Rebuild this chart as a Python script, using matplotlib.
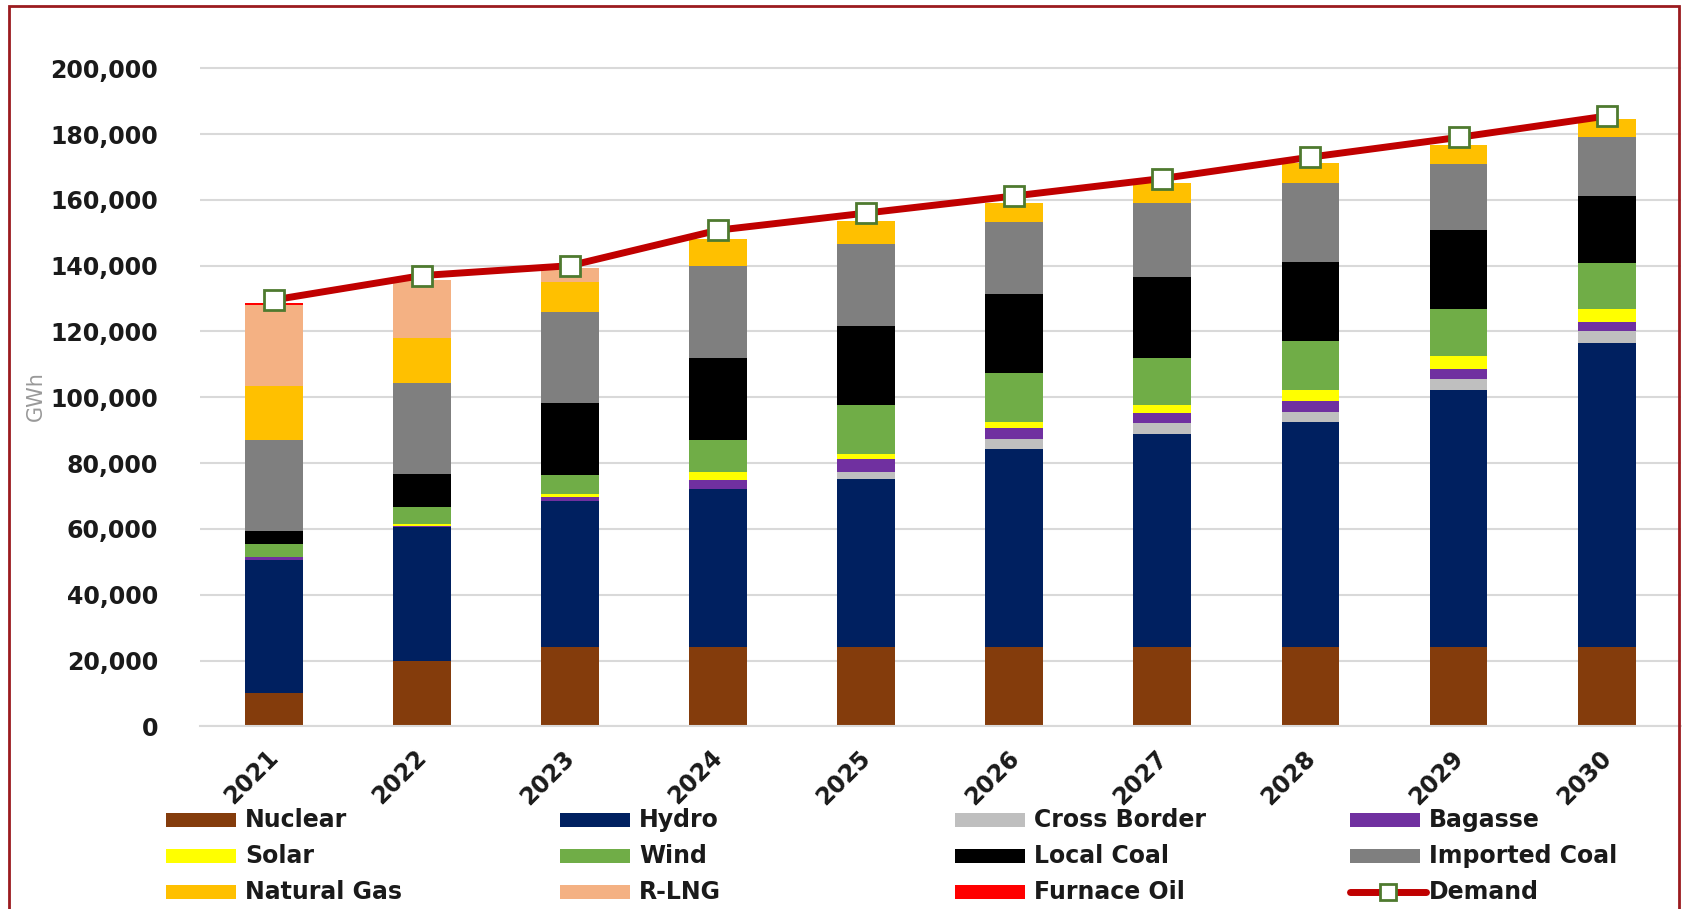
import matplotlib
matplotlib.use("Agg")
import matplotlib.pyplot as plt
import numpy as np
from matplotlib.patches import Rectangle
from matplotlib.lines import Line2D
from matplotlib.transforms import ScaledTranslation

# generation mix by source, GWh
years = ['2021', '2022', '2023', '2024', '2025', '2026', '2027', '2028', '2029', '2030']
nuclear = [10000, 19800, 24200, 24200, 24200, 24200, 24200, 24200, 24200, 24200]
hydro = [40400, 40700, 44200, 48000, 51100, 60000, 64600, 68300, 77900, 92200]
cross_border = [0, 0, 0, 0, 2000, 3100, 3500, 3100, 3600, 3700]
bagasse = [1200, 300, 1400, 2800, 3800, 3500, 3000, 3400, 2900, 2900]
solar = [0, 700, 800, 2300, 1600, 1800, 2400, 3300, 4000, 3800]
wind = [3800, 5300, 5800, 9800, 14900, 14800, 14200, 14700, 14200, 14100]
local_coal = [4100, 9900, 21900, 24900, 24200, 24100, 24700, 24100, 23900, 20400]
imported_coal = [27500, 27600, 27500, 27900, 24800, 21800, 22600, 24100, 20100, 17700]
natural_gas = [16500, 13600, 9200, 8100, 6900, 5900, 6000, 5900, 5900, 5500]
rlng = [24700, 17800, 4300, 0, 0, 0, 0, 0, 0, 0]
furnace_oil = [400, 0, 0, 0, 0, 0, 0, 0, 0, 0]
demand = [129600, 137000, 140000, 150800, 156000, 161200, 166500, 173000, 179000, 185500]

series = [
    ("Nuclear", nuclear, "#843C0C"),
    ("Hydro", hydro, "#002060"),
    ("Cross Border", cross_border, "#BFBFBF"),
    ("Bagasse", bagasse, "#7030A0"),
    ("Solar", solar, "#FFFF00"),
    ("Wind", wind, "#70AD47"),
    ("Local Coal", local_coal, "#000000"),
    ("Imported Coal", imported_coal, "#7F7F7F"),
    ("Natural Gas", natural_gas, "#FFC000"),
    ("R-LNG", rlng, "#F4B183"),
    ("Furnace Oil", furnace_oil, "#FF0000"),
]

W, H = 1683, 909
fig = plt.figure(figsize=(W / 100, H / 100), dpi=100)
plt.rcParams['font.family'] = ['DejaVu Sans']
txt = '#1a1a1a'
fs = 17

# outer border
fig.patches.append(Rectangle((9 / W, -0.02), (1679 - 9) / W, 1.02 - 6.5 / H,
                             transform=fig.transFigure, fill=False,
                             edgecolor='#9B1B1F', linewidth=2, zorder=0))

ax_left, ax_right = 199.7, 1680.7
y0, px_per_k = 726.3, 3.29
ymax = 201000
ax_top = y0 - px_per_k * ymax / 1000
ax = fig.add_axes([ax_left / W, 1 - y0 / H, (ax_right - ax_left) / W, (y0 - ax_top) / H])

x = np.arange(len(years))
bottom = np.zeros(len(years))
for name, vals, col in series:
    vals = np.array(vals, dtype=float)
    ax.bar(x, vals, width=0.39, bottom=bottom, color=col, zorder=2, linewidth=0)
    bottom += vals

ax.plot(x, demand, color='#C00000', linewidth=5, marker='s', markersize=14,
        markerfacecolor='white', markeredgecolor='#4E7A2F', markeredgewidth=2,
        zorder=5, solid_capstyle='butt')

ax.set_xlim(-0.5, len(years) - 0.5)
ax.set_ylim(0, ymax)
ax.set_yticks(np.arange(0, 200001, 20000))
ax.yaxis.set_major_formatter(matplotlib.ticker.FuncFormatter(lambda v, p: f"{int(v):,}"))
ax.grid(axis='y', color='#D9D9D9', linewidth=1.5, zorder=0)
ax.set_axisbelow(True)
for s in ['top', 'right', 'left']:
    ax.spines[s].set_visible(False)
ax.spines['bottom'].set_color('#D9D9D9')
ax.spines['bottom'].set_linewidth(1.5)
ax.tick_params(axis='both', length=0, labelsize=fs, labelcolor=txt)
ax.tick_params(axis='y', pad=30)
for lab in ax.get_yticklabels():
    lab.set_fontweight('bold')
ax.set_xticks(x)
ax.set_xticklabels(years, rotation=45, ha='right', va='center', rotation_mode='anchor',
                   fontweight='bold')
ax.tick_params(axis='x', pad=20)
for lab in ax.get_xticklabels():
    lab.set_transform(lab.get_transform() + ScaledTranslation(0.01, 0, fig.dpi_scale_trans))
ax.set_ylabel("GWh", color='#999999', fontsize=15)
ax.yaxis.set_label_coords(-0.104, 0.5)

# legend laid out like the Excel one: 4 columns, row-wise order
entries = [(n, c) for n, _, c in series] + [("Demand", None)]
col_x = [166, 560, 955, 1350]
row_y = [820, 856, 892]
for i, (name, col) in enumerate(entries):
    r, c = divmod(i, 4)
    hx, hy = col_x[c], row_y[r]
    if col is not None:
        fig.patches.append(Rectangle((hx / W, 1 - (hy + 7) / H), 70 / W, 14 / H,
                                     transform=fig.transFigure, facecolor=col,
                                     edgecolor='none'))
    else:
        fig.lines.append(Line2D([hx / W, (hx + 76) / W], [1 - hy / H, 1 - hy / H],
                                transform=fig.transFigure, color='#C00000', linewidth=5,
                                solid_capstyle='round'))
        fig.lines.append(Line2D([(hx + 38) / W], [1 - hy / H], transform=fig.transFigure,
                                marker='s', markersize=12, markerfacecolor='white',
                                markeredgecolor='#4E7A2F', markeredgewidth=2))
    fig.text((hx + 79) / W, 1 - hy / H, name, fontsize=fs, color=txt, va='center', ha='left',
             fontweight='bold')

fig.savefig("out.png", dpi=100)
